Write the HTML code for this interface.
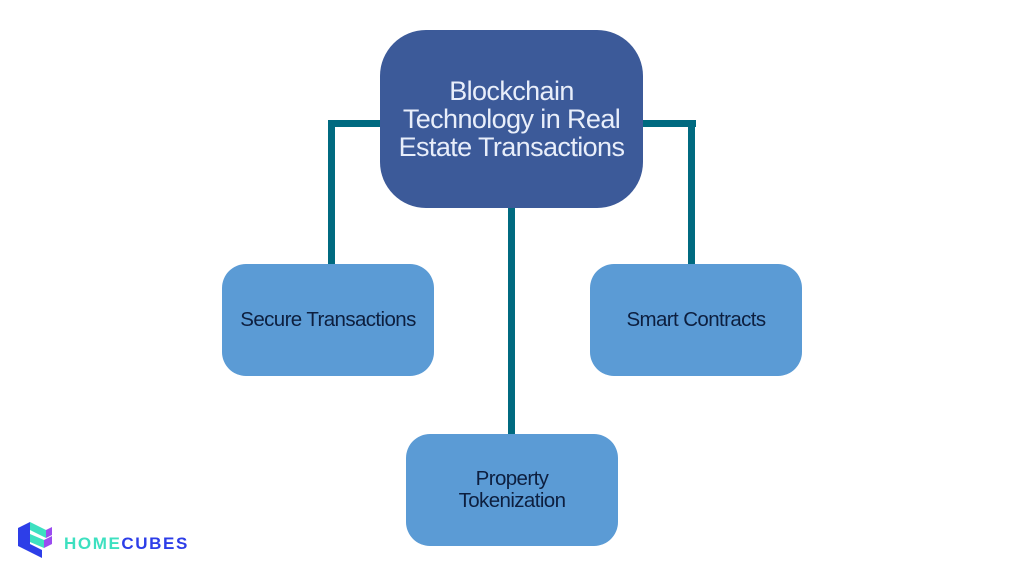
<!DOCTYPE html>
<html><head><style>
body{margin:0;width:1024px;height:577px;background:#fff;position:relative;overflow:hidden;font-family:"Liberation Sans",sans-serif}
.b{position:absolute;display:flex;align-items:center;justify-content:center;text-align:center}
.c{background:#5b9bd5;border-radius:24px;color:#0d1f3f;font-size:20.5px;width:212px;height:112px;letter-spacing:-0.6px}
.l{position:absolute;background:#006a80}
</style></head><body>
<div class="l" style="left:328px;top:120px;width:56px;height:7px"></div>
<div class="l" style="left:328px;top:120px;width:7px;height:146px"></div>
<div class="l" style="left:640px;top:120px;width:56px;height:7px"></div>
<div class="l" style="left:688px;top:120px;width:7px;height:146px"></div>
<div class="l" style="left:508px;top:200px;width:7px;height:236px"></div>
<div class="b" style="left:380px;top:30px;width:263px;height:178px;background:#3c5a99;border-radius:46px;color:#e8eefa;font-size:27px;line-height:28px;letter-spacing:-0.6px">Blockchain<br>Technology in Real<br>Estate Transactions</div>
<div class="b c" style="left:222px;top:264px">Secure Transactions</div>
<div class="b c" style="left:590px;top:264px">Smart Contracts</div>
<div class="b c" style="left:406px;top:434px;line-height:22px">Property<br>Tokenization</div>
<svg style="position:absolute;left:16px;top:518px" width="40" height="40" viewBox="0 0 40 40">
<polygon points="2,10 14,4 14,34 2,28" fill="#2d3ee8"/>
<polygon points="14,4 30,12 30,20 14,12" fill="#3de0c0"/>
<polygon points="14,16 28,22 28,30 14,24" fill="#3de0c0"/>
<polygon points="28,22 36,18 36,26 28,30" fill="#9a4cf0"/>
<polygon points="30,12 36,9 36,17 30,20" fill="#9a4cf0"/>
<polygon points="14,26 26,32 26,40 14,34" fill="#2d3ee8"/>
</svg>
<div style="position:absolute;left:64px;top:534px;font-size:17px;font-weight:bold;letter-spacing:1.6px"><span style="color:#3de0c0">HOME</span><span style="color:#2d3ee8">CUBES</span></div>
</body></html>
